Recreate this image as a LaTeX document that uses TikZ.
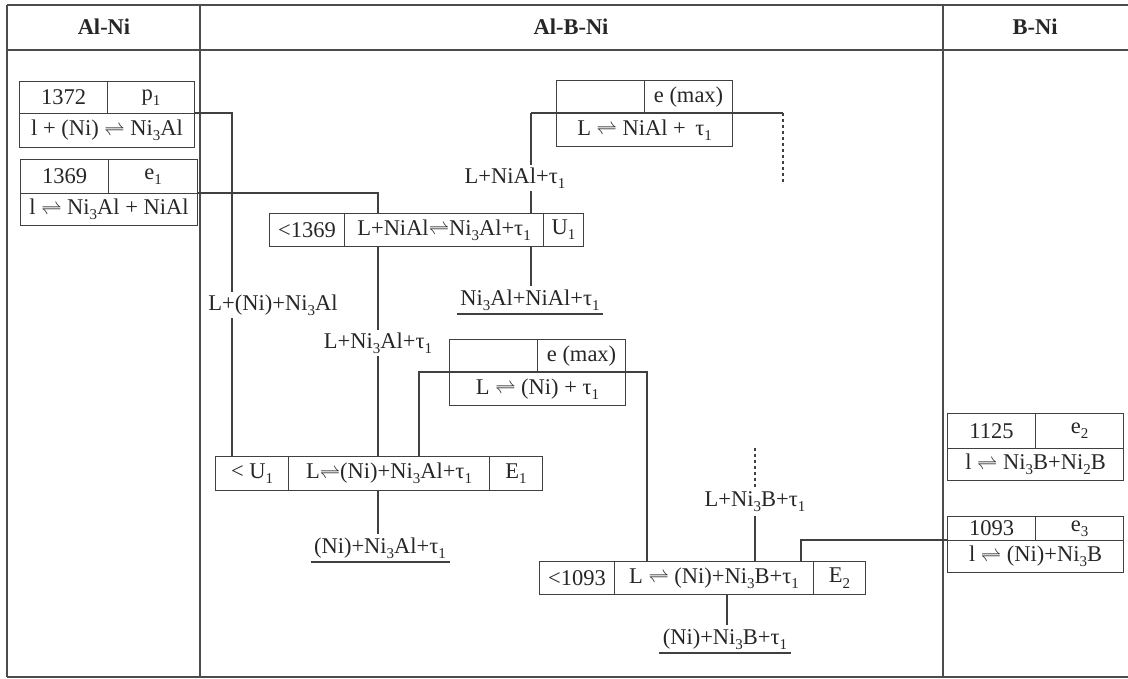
\documentclass[tikz,border=0pt]{standalone}
\usepackage{fontspec}
\setmainfont{Liberation Serif}
\usepackage{tikz}
\newcommand{\req}{\ensuremath{\rightleftharpoons}}
\newcommand{\sub}[1]{\raisebox{-0.5ex}{\fontsize{15}{15}\selectfont #1}}

\begin{document}
\begin{tikzpicture}[x=1pt,y=-1pt,line width=1.1pt,
  every node/.style={font=\fontsize{22.5}{25}\selectfont,text=black!85},
  cell/.style 2 args={draw=black!75,rectangle,anchor=north west,inner sep=0pt,minimum width=#1pt,minimum height=#2pt},
  lbl/.style={fill=white,inner sep=3pt},
  head/.style={font=\fontsize{22.5}{25}\selectfont\bfseries},
  frame/.style={draw=black!70,line width=1.8pt},
  link/.style={draw=black!75,line width=1.1pt}]
\useasboundingbox (0,0) rectangle (1128,679);
\foreach \y in {5,50,677} {
   \draw[frame] (7,\y) -- (1128,\y);
}
\foreach \x in {7,200,943} {
   \draw[frame] (\x,5) -- (\x,677);
}
\node[head] (hAlNi) at (104,27) {Al-Ni};
\node[head] (hAlBNi) at (571,27) {Al-B-Ni};
\node[head] (hBNi) at (1035,27) {B-Ni};
% binary Al-Ni
\node[cell={88}{32}] (p1a) at (19,81) {1372};
\node[cell={87}{32}] (p1b) at (107,81) {p\sub{1}};
\node[cell={175}{34}] (p1c) at (19,113) {l + (Ni) \req\ Ni\sub{3}Al};
\node[cell={88}{34}] (e1a) at (20,159) {1369};
\node[cell={89}{34}] (e1b) at (108,159) {e\sub{1}};
\node[cell={177}{32}] (e1c) at (20,193) {l \req\ Ni\sub{3}Al + NiAl};
% binary B-Ni
\node[cell={88}{35}] (e2a) at (947,413) {1125};
\node[cell={88}{35}] (e2b) at (1035,413) {e\sub{2}};
\node[cell={176}{32}] (e2c) at (947,448) {l \req\ Ni\sub{3}B+Ni\sub{2}B};
\node[cell={88}{24}] (e3a) at (947,516) {1093};
\node[cell={88}{24}] (e3b) at (1035,516) {e\sub{3}};
\node[cell={176}{32}] (e3c) at (947,540) {l \req\ (Ni)+Ni\sub{3}B};
% ternary
\node[cell={88}{33}] (m1a) at (556,80) {};
\node[cell={88}{33}] (m1b) at (644,80) {e (max)};
\node[cell={176}{33}] (m1c) at (556,113) {L \req\ NiAl + \,τ\sub{1}};
\node[cell={75}{33}] (u1a) at (269,213) {<1369};
\node[cell={199}{33}] (u1b) at (344,213) {L+NiAl\req Ni\sub{3}Al+τ\sub{1}};
\node[cell={40}{33}] (u1c) at (543,213) {U\sub{1}};
\node[cell={88}{33}] (m2a) at (449,339) {};
\node[cell={88}{33}] (m2b) at (537,339) {e (max)};
\node[cell={176}{33}] (m2c) at (449,372) {L \req\ (Ni) + τ\sub{1}};
\node[cell={73}{34}] (E1a) at (215,456) {< U\sub{1}};
\node[cell={201}{34}] (E1b) at (288,456) {L\req(Ni)+Ni\sub{3}Al+τ\sub{1}};
\node[cell={53}{34}] (E1c) at (489,456) {E\sub{1}};
\node[cell={75}{33}] (E2a) at (539,561) {<1093};
\node[cell={199}{33}] (E2b) at (614,561) {L \req\ (Ni)+Ni\sub{3}B+τ\sub{1}};
\node[cell={52}{33}] (E2c) at (813,561) {E\sub{2}};
% bends
\coordinate (k1) at (232,113);
\coordinate (k2) at (378,193);
\coordinate (k3) at (531,113);
\coordinate (k4) at (783,113);
\coordinate (k5) at (783,182);
\coordinate (k6) at (419,372);
\coordinate (k7) at (647,372);
\coordinate (k8) at (755,448);
\coordinate (k9) at (801,540);
\coordinate (k10) at (727,594);
\draw[link] (p1c.north east) -- (k1) -- (k1 |- E1a.north);
\draw[link] (e1c.north east) -- (k2) -- (k2 |- u1b.north);
\draw[link] (k3) -- (k4);
\draw[link] (k3) -- (k3 |- u1b.north);
\draw[link,dashed] (k4) -- (k5);
\draw[link] (k2 |- u1b.south) -- (k2 |- E1b.north);
\draw[link] (k6 |- E1b.north) -- (k6) -- (k7) -- (k7 |- E2b.north);
\draw[link] (e3c.north west) -- (k9) -- (k9 |- E2b.north);
% labels
\node[lbl] (lp1) at (273,305) {L+(Ni)+Ni\sub{3}Al};
\node[lbl] (ln1) at (515,178) {L+NiAl+τ\sub{1}};
\node[lbl] (lu1) at (378,343) {L+Ni\sub{3}Al+τ\sub{1}};
\node[lbl] (lu2) at (530,300) {Ni\sub{3}Al+NiAl+τ\sub{1}};
\node[lbl] (le1) at (380,548) {(Ni)+Ni\sub{3}Al+τ\sub{1}};
\node[lbl] (lb1) at (755,502) {L+Ni\sub{3}B+τ\sub{1}};
\node[lbl] (le2) at (725,639) {(Ni)+Ni\sub{3}B+τ\sub{1}};
\draw[link] (k3 |- u1b.south) -- (k3 |- lu2.north);
\draw[link] (k2 |- E1b.south) -- (k2 |- le1.north);
\draw[link,dashed] (k8) -- (lb1.north);
\draw[link] (lb1.south) -- (lb1.south |- E2b.north);
\draw[link] (k10) -- (k10 |- le2.north);
\draw[link] (lu2.south west) -- (lu2.south east);
\draw[link] (le1.south west) -- (le1.south east);
\draw[link] (le2.south west) -- (le2.south east);
\end{tikzpicture}
\end{document}
